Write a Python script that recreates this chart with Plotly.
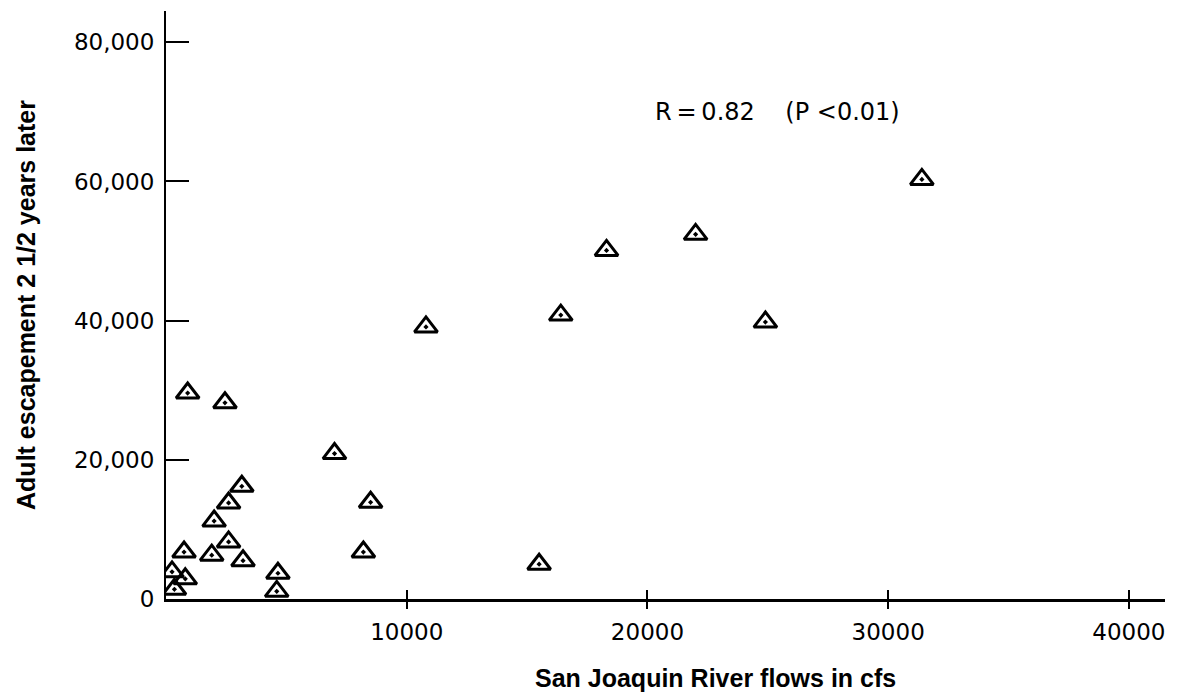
import plotly.graph_objects as go

# River flows (cfs) and adult escapement 2 1/2 years later
flows = [31400, 22000, 18300, 16400, 24900, 10800, 15500, 7000, 8500, 8200,
         900, 2450, 3150, 2600, 2000, 2600, 750, 1900, 3200, 250, 800, 350,
         4650, 4600]
escapement = [60300, 52400, 50100, 40800, 39800, 39100, 5000, 20900, 13900,
              6750, 29600, 28200, 16200, 13800, 11200, 8200, 6750, 6300, 5500,
              3900, 2900, 1400, 3700, 1100]

x_ticks = [10000, 20000, 30000, 40000]
x_tick_labels = ["10000", "20000", "30000", "40000"]
y_ticks = [0, 20000, 40000, 60000, 80000]
y_tick_labels = ["0", "20,000", "40,000", "60,000", "80,000"]

x_title = "San Joaquin River flows in cfs"
y_title = "Adult escapement 2 1/2 years later"
stat_text = "R\u2009=\u20090.82\u00a0\u00a0\u00a0\u00a0(P\u00a0<0.01)"

X_RANGE = [0, 41500]
Y_RANGE = [0, 84500]

tick_font = dict(family="DejaVu Sans, Verdana, sans-serif", size=23, color="black")
title_font = dict(family="Liberation Sans, Arial, Helvetica, sans-serif",
                  size=25, color="black", weight="bold")

fig = go.Figure()
fig.add_trace(go.Scatter(
    x=flows, y=escapement, mode="markers",
    marker=dict(symbol="triangle-up-open-dot", size=20, color="black",
                line=dict(width=3, color="black")),
    showlegend=False, hoverinfo="x+y",
))
# helper trace so the overlaying x axis (inner half of crossing ticks) is drawn
fig.add_trace(go.Scatter(x=[None], y=[None], xaxis="x2", yaxis="y",
                         mode="markers", showlegend=False, hoverinfo="skip"))

fig.add_annotation(x=25400, y=70000, xref="x", yref="y", text=stat_text,
                   showarrow=False, xanchor="center", yanchor="middle",
                   font=dict(family="DejaVu Sans, Verdana, sans-serif", size=24, color="black"))

# x-axis title
fig.add_annotation(x=0.55, y=-0.134, xref="paper", yref="paper", text=x_title,
                   showarrow=False, xanchor="center", yanchor="middle",
                   font=title_font)

fig.update_layout(
    width=1169, height=684,
    margin=dict(l=158, r=12, t=3, b=93),
    paper_bgcolor="white", plot_bgcolor="white",
    xaxis=dict(
        range=X_RANGE, tickmode="array", tickvals=x_ticks, ticktext=x_tick_labels,
        ticks="outside", ticklen=7, tickwidth=2, tickcolor="black",
        showline=True, linecolor="black", linewidth=3,
        showgrid=False, zeroline=False, tickfont=tick_font, ticklabelstandoff=3,
    ),
    xaxis2=dict(
        range=X_RANGE, overlaying="x", anchor="y", side="bottom",
        tickmode="array", tickvals=x_ticks, ticks="inside", ticklen=9,
        tickwidth=2, tickcolor="black", showticklabels=False,
        showline=False, showgrid=False, zeroline=False,
    ),
    yaxis=dict(
        range=Y_RANGE, tickmode="array", tickvals=y_ticks, ticktext=y_tick_labels,
        ticks="inside", ticklen=23, tickwidth=2, tickcolor="black",
        showline=True, linecolor="black", linewidth=2,
        showgrid=False, zeroline=False, tickfont=tick_font, ticklabelstandoff=5,
        title=dict(text=y_title, font=title_font, standoff=31),
    ),
)

fig.write_html("out.html")
